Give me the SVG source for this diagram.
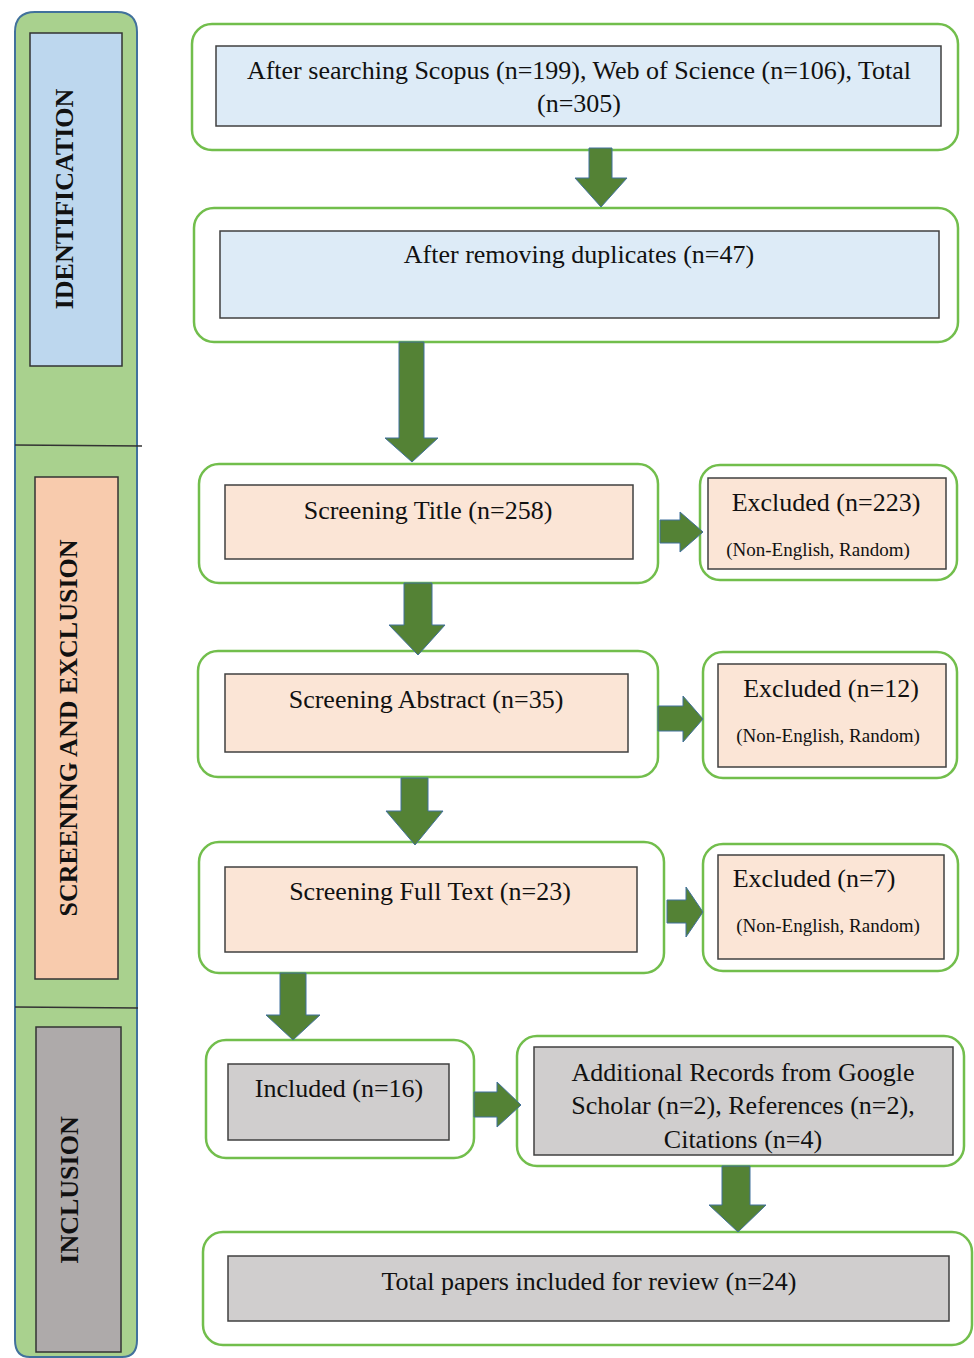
<svg xmlns="http://www.w3.org/2000/svg" width="974" height="1358" viewBox="0 0 974 1358">
<style>
.outer{fill:#fff;stroke:#72BE4C;stroke-width:2.5}
.blue{fill:#DDEBF7;stroke:#404040;stroke-width:1.5}
.peach{fill:#FBE5D6;stroke:#404040;stroke-width:1.5}
.gray{fill:#D0CECE;stroke:#404040;stroke-width:1.5}
.t{font-family:"Liberation Serif","Times New Roman",serif;font-size:26px;fill:#111;text-anchor:middle}
.s{font-family:"Liberation Serif","Times New Roman",serif;font-size:19px;fill:#111;text-anchor:middle}
.lab{font-family:"Liberation Serif","Times New Roman",serif;font-size:26px;font-weight:bold;fill:#111;text-anchor:middle}
.arr{fill:#548235;stroke:#41719C;stroke-width:1}
</style>
<g id="phase-band">
<path d="M15,1340 L15,32 Q15,12 35,12 L117,12 Q137,12 137,32 L137,1340 Q137,1357 122,1357 L30,1357 Q15,1357 15,1340 Z" fill="#A9D18E" stroke="#41719C" stroke-width="2"/>
<line x1="15" y1="445" x2="142" y2="446" stroke="#333" stroke-width="1.5"/>
<line x1="15" y1="1007" x2="138" y2="1008" stroke="#333" stroke-width="1.5"/>
</g>
<g id="identification">
<rect x="30" y="33" width="92" height="333" fill="#BDD7EE" stroke="#333" stroke-width="1.5"/>
<text class="lab" transform="translate(73,199) rotate(-90)">IDENTIFICATION</text>
</g>
<g id="screening">
<rect x="35" y="477" width="83" height="502" fill="#F8CBAD" stroke="#333" stroke-width="1.5"/>
<text class="lab" transform="translate(77,728) rotate(-90)">SCREENING AND EXCLUSION</text>
</g>
<g id="inclusion">
<rect x="36" y="1027" width="85" height="325" fill="#AEAAAA" stroke="#333" stroke-width="1.5"/>
<text class="lab" transform="translate(78,1190) rotate(-90)">INCLUSION</text>
</g>
<g id="n-search">
<rect class="outer" x="192" y="24" width="766" height="126" rx="20"/>
<rect class="blue" x="216" y="46" width="725" height="80"/>
<text class="t" x="579" y="79">After searching Scopus (n=199), Web of Science (n=106), Total</text>
<text class="t" x="579" y="112">(n=305)</text>
</g>
<g id="n-dup">
<rect class="outer" x="194" y="208" width="764" height="134" rx="20"/>
<rect class="blue" x="220" y="231" width="719" height="87"/>
<text class="t" x="579" y="263">After removing duplicates (n=47)</text>
</g>
<g id="n-title">
<rect class="outer" x="199" y="464" width="459" height="119" rx="20"/>
<rect class="peach" x="225" y="485" width="408" height="74"/>
<text class="t" x="428" y="519">Screening Title  (n=258)</text>
</g>
<g id="n-ex1">
<rect class="outer" x="700" y="465" width="257" height="115" rx="20"/>
<rect class="peach" x="708" y="478" width="238" height="91"/>
<text class="t" x="826" y="511">Excluded (n=223)</text>
<text class="s" x="818" y="556">(Non-English,  Random)</text>
</g>
<g id="n-abstract">
<rect class="outer" x="198" y="651" width="460" height="126" rx="20"/>
<rect class="peach" x="225" y="674" width="403" height="78"/>
<text class="t" x="426" y="708">Screening Abstract (n=35)</text>
</g>
<g id="n-ex2">
<rect class="outer" x="703" y="652" width="254" height="126" rx="20"/>
<rect class="peach" x="718" y="664" width="228" height="103"/>
<text class="t" x="831" y="697">Excluded (n=12)</text>
<text class="s" x="828" y="742">(Non-English,  Random)</text>
</g>
<g id="n-full">
<rect class="outer" x="199" y="842" width="465" height="131" rx="20"/>
<rect class="peach" x="225" y="867" width="412" height="85"/>
<text class="t" x="430" y="900">Screening Full Text (n=23)</text>
</g>
<g id="n-ex3">
<rect class="outer" x="703" y="844" width="255" height="127" rx="20"/>
<rect class="peach" x="718" y="855" width="226" height="104"/>
<text class="t" x="814" y="887">Excluded (n=7)</text>
<text class="s" x="828" y="932">(Non-English,  Random)</text>
</g>
<g id="n-included">
<rect class="outer" x="206" y="1040" width="268" height="118" rx="20"/>
<rect class="gray" x="228" y="1064" width="221" height="76"/>
<text class="t" x="339" y="1097">Included (n=16)</text>
</g>
<g id="n-additional">
<rect class="outer" x="517" y="1036" width="447" height="130" rx="20"/>
<rect class="gray" x="534" y="1047" width="419" height="108"/>
<text class="t" x="743" y="1081">Additional Records from Google</text>
<text class="t" x="743" y="1114">Scholar (n=2), References (n=2),</text>
<text class="t" x="743" y="1148">Citations (n=4)</text>
</g>
<g id="n-total">
<rect class="outer" x="203" y="1232" width="769" height="113" rx="20"/>
<rect class="gray" x="228" y="1256" width="721" height="65"/>
<text class="t" x="589" y="1290">Total papers included for review  (n=24)</text>
</g>
<g id="connectors">
<path class="arr" d="M589,148 L612,148 L612,178 L627,178 L601,207 L575,178 L589,178 Z"/>
<path class="arr" d="M399,342 L424,342 L424,438 L438,438 L412,462 L385,438 L399,438 Z"/>
<path class="arr" d="M404,583 L432,583 L432,625 L445,625 L418,655 L389,625 L404,625 Z"/>
<path class="arr" d="M401,778 L428,778 L428,811 L443,811 L415,845 L386,811 L401,811 Z"/>
<path class="arr" d="M280,973 L306,973 L306,1015 L320,1015 L293,1040 L266,1015 L280,1015 Z"/>
<path class="arr" d="M722,1166 L750,1166 L750,1205 L766,1205 L738,1232 L709,1205 L722,1205 Z"/>
<path class="arr" d="M660,520 L680,520 L680,512 L703,532 L680,552 L680,543 L660,543 Z"/>
<path class="arr" d="M658,706 L683,706 L683,696 L703,719 L683,742 L683,731 L658,731 Z"/>
<path class="arr" d="M667,900 L686,900 L686,887 L703,912 L686,937 L686,923 L667,923 Z"/>
<path class="arr" d="M474,1092 L497,1092 L497,1082 L521,1105 L497,1127 L497,1117 L474,1117 Z"/>
</g>
</svg>
